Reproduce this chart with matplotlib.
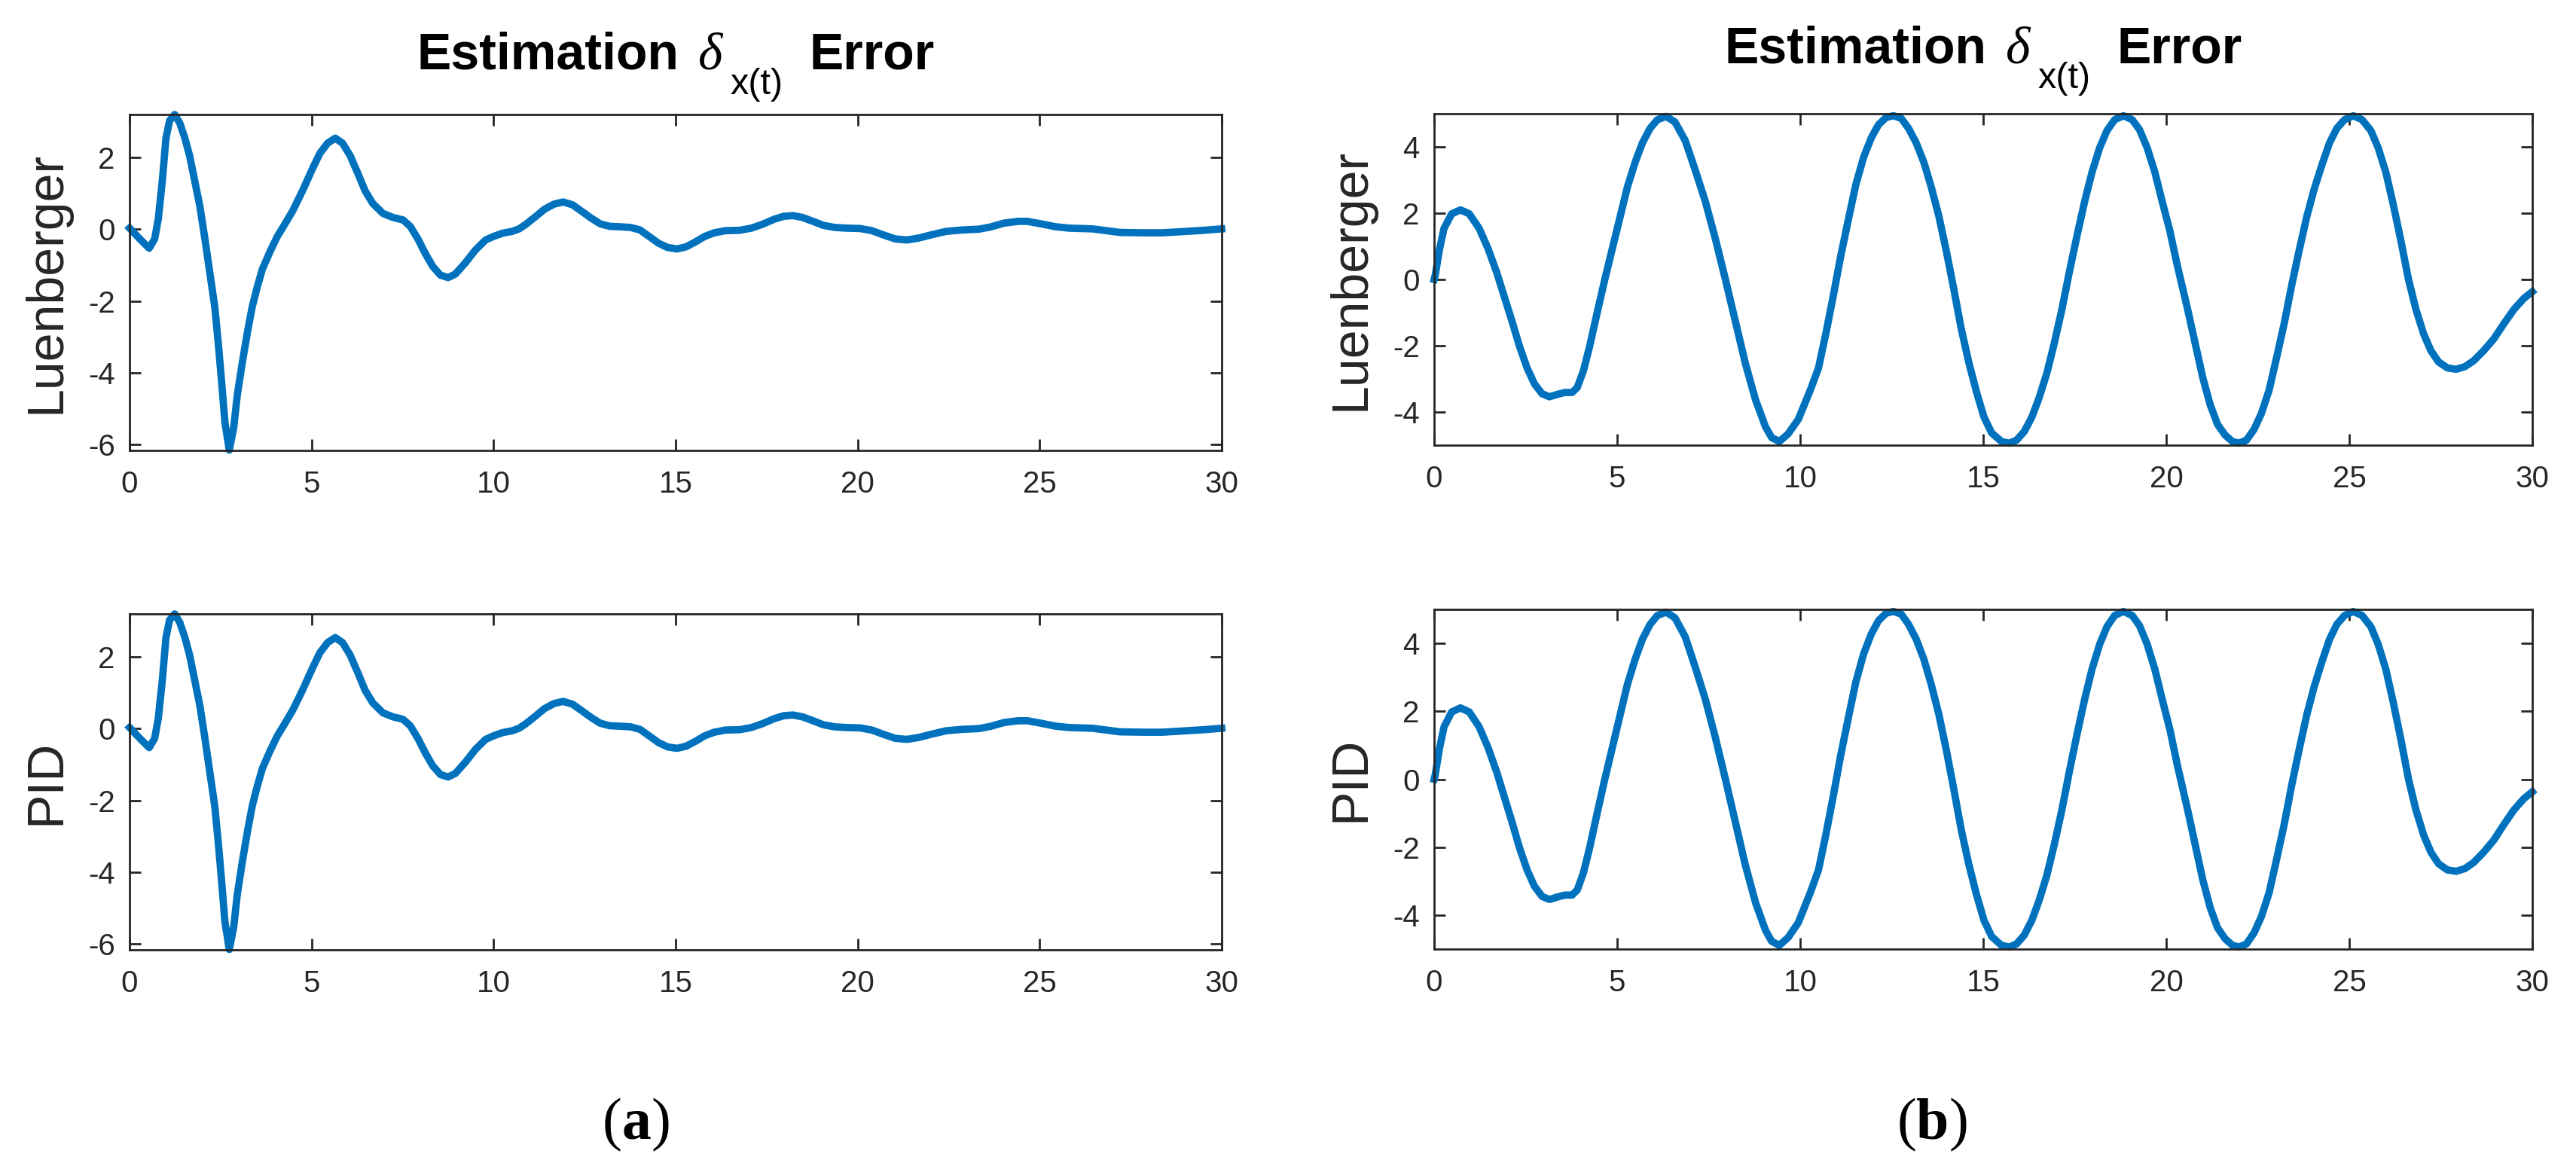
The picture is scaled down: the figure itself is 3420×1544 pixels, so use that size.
import matplotlib
matplotlib.use("Agg")
import matplotlib.pyplot as plt
from matplotlib.transforms import IdentityTransform

plt.rcParams["font.family"] = ["Liberation Sans", "DejaVu Sans"]
plt.rcParams["axes.unicode_minus"] = False

#   values
t_a = [0, 0.28, 0.54, 0.69, 0.79, 0.9, 1.0, 1.1, 1.24, 1.38, 1.52, 1.65, 1.79, 1.93,
       2.07, 2.2, 2.34, 2.44, 2.53, 2.62, 2.74, 2.86, 2.96, 3.1, 3.24, 3.37, 3.51,
       3.65, 3.86, 4.06, 4.27, 4.48, 4.75, 5.03, 5.23, 5.44, 5.65, 5.85, 6.06, 6.27,
       6.47, 6.68, 6.96, 7.23, 7.51, 7.71, 7.92, 8.13, 8.33, 8.54, 8.75, 8.95, 9.23,
       9.5, 9.78, 10.0, 10.25, 10.51, 10.7, 10.89, 11.15, 11.4, 11.66, 11.91, 12.17,
       12.42, 12.68, 12.93, 13.19, 13.44, 13.76, 14.02, 14.27, 14.53, 14.78, 15.04,
       15.29, 15.55, 15.8, 16.06, 16.37, 16.76, 17.08, 17.39, 17.71, 17.97, 18.22,
       18.48, 18.8, 19.05, 19.37, 19.69, 20.07, 20.39, 20.71, 21.03, 21.35, 21.66,
       22.05, 22.43, 22.88, 23.32, 23.64, 24.02, 24.41, 24.66, 25.04, 25.43, 25.81,
       26.45, 26.83, 27.21, 27.85, 28.36, 28.87, 29.51, 30.0]
luenberger_a = [0.03, -0.27, -0.53, -0.27, 0.29, 1.35, 2.54, 3.03, 3.2, 2.96, 2.54, 2.05,
                1.35, 0.65, -0.27, -1.18, -2.16, -3.21, -4.27, -5.39, -6.16, -5.54, -4.62,
                -3.7, -2.86, -2.16, -1.6, -1.11, -0.62, -0.2, 0.15, 0.51, 1.07, 1.7, 2.12,
                2.4, 2.54, 2.4, 2.05, 1.56, 1.07, 0.72, 0.44, 0.33, 0.26, 0.08, -0.27,
                -0.69, -1.04, -1.28, -1.35, -1.25, -0.93, -0.58, -0.3, -0.2, -0.11, -0.06,
                0.01, 0.14, 0.35, 0.56, 0.7, 0.76, 0.68, 0.5, 0.31, 0.15, 0.08, 0.07, 0.05,
                -0.02, -0.2, -0.39, -0.51, -0.55, -0.49, -0.35, -0.2, -0.1, -0.04, -0.03,
                0.03, 0.14, 0.28, 0.36, 0.38, 0.33, 0.21, 0.11, 0.05, 0.03, 0.02, -0.04,
                -0.16, -0.27, -0.3, -0.25, -0.15, -0.06, -0.02, 0.0, 0.06, 0.17, 0.22,
                0.22, 0.15, 0.07, 0.03, 0.01, -0.04, -0.09, -0.1, -0.1, -0.07, -0.03, 0.01]
pid_a = list(luenberger_a)

t_b = [0, 0.03, 0.14, 0.27, 0.48, 0.72, 0.96, 1.23, 1.47, 1.71, 1.92, 2.13, 2.33, 2.54,
       2.74, 2.95, 3.15, 3.36, 3.57, 3.77, 3.91, 4.08, 4.25, 4.46, 4.66, 4.87, 5.08,
       5.28, 5.49, 5.69, 5.9, 6.1, 6.34, 6.58, 6.86, 7.13, 7.41, 7.68, 7.96, 8.23, 8.5,
       8.78, 9.05, 9.22, 9.43, 9.67, 9.95, 10.29, 10.5, 10.7, 10.91, 11.11, 11.32,
       11.52, 11.73, 11.94, 12.14, 12.35, 12.55, 12.76, 12.96, 13.17, 13.38, 13.58,
       13.79, 13.99, 14.2, 14.4, 14.61, 14.82, 15.02, 15.23, 15.5, 15.71, 15.91, 16.12,
       16.33, 16.53, 16.74, 16.94, 17.15, 17.35, 17.56, 17.77, 17.97, 18.18, 18.38,
       18.59, 18.83, 19.07, 19.27, 19.48, 19.69, 19.89, 20.1, 20.3, 20.58, 20.79, 21.0,
       21.2, 21.4, 21.61, 21.81, 21.99, 22.19, 22.4, 22.6, 22.81, 23.01, 23.22, 23.43,
       23.63, 23.84, 24.04, 24.25, 24.46, 24.66, 24.87, 25.11, 25.35, 25.59, 25.79,
       26.0, 26.2, 26.41, 26.62, 26.82, 27.03, 27.23, 27.44, 27.68, 27.92, 28.16, 28.4,
       28.67, 28.95, 29.22, 29.5, 29.77, 30.0]
luenberger_b = [0, 0.13, 0.87, 1.54, 1.98, 2.1, 1.98, 1.54, 0.94, 0.21, -0.53, -1.27,
                -2.01, -2.67, -3.15, -3.45, -3.54, -3.47, -3.41, -3.41, -3.26, -2.75,
                -2.01, -0.97, -0.01, 0.94, 1.9, 2.79, 3.53, 4.12, 4.56, 4.82, 4.92, 4.75,
                4.19, 3.31, 2.35, 1.24, -0.01, -1.27, -2.52, -3.63, -4.44, -4.77, -4.89,
                -4.66, -4.22, -3.3, -2.67, -1.64, -0.46, 0.72, 1.83, 2.86, 3.68, 4.27,
                4.67, 4.89, 4.94, 4.86, 4.56, 4.12, 3.53, 2.79, 1.9, 0.87, -0.31, -1.49,
                -2.52, -3.41, -4.15, -4.63, -4.89, -4.94, -4.85, -4.59, -4.15, -3.56,
                -2.82, -1.93, -0.9, 0.21, 1.31, 2.35, 3.23, 3.97, 4.49, 4.82, 4.94, 4.82,
                4.52, 3.97, 3.23, 2.35, 1.46, 0.43, -0.88, -1.93, -2.97, -3.78, -4.37,
                -4.7, -4.89, -4.94, -4.85, -4.52, -4.04, -3.34, -2.38, -1.34, -0.16, 0.87,
                1.9, 2.72, 3.45, 4.12, 4.56, 4.82, 4.94, 4.82, 4.49, 3.97, 3.23, 2.27,
                1.17, -0.01, -0.9, -1.64, -2.15, -2.49, -2.67, -2.71, -2.63, -2.45, -2.15,
                -1.79, -1.34, -0.9, -0.57, -0.37]
pid_b = list(luenberger_b)

xticks = [0, 5, 10, 15, 20, 25, 30]
yticks_a = [-6, -4, -2, 0, 2]
yticks_b = [-4, -2, 0, 2, 4]

W, H = 3420, 1544
fig = plt.figure(figsize=(W / 100, H / 100), dpi=100)


def px_axes(left, top, right, bottom):
    return fig.add_axes([left / W, 1 - bottom / H, (right - left) / W, (bottom - top) / H])


def style(ax, t, y, ylim, yticks, label, width_px):
    ax.plot(t, y, color="#0072BD", lw=7, solid_joinstyle="round", clip_on=False)
    ax.set_xlim(0, 30)
    ax.set_ylim(*ylim)
    ax.set_xticks(xticks)
    ax.set_yticks(yticks)
    for s in ax.spines.values():
        s.set_linewidth(2.0)
        s.set_color("#262626")
    ax.tick_params(direction="in", length=11, width=2, top=True, right=True,
                   labelsize=29, colors="#262626")
    ax.tick_params(axis="x", pad=19)
    ax.tick_params(axis="y", pad=14)
    ax.set_ylabel(label, fontsize=49, color="#262626", va="center")
    ax.yaxis.set_label_coords(-111 / width_px, 0.5)


ax1 = px_axes(172, 152, 1622, 598)
style(ax1, t_a, luenberger_a, (-6.17, 3.2), yticks_a, "Luenberger", 1450)
ax2 = px_axes(172, 815, 1622, 1261)
style(ax2, t_a, pid_a, (-6.17, 3.2), yticks_a, "PID", 1450)
ax3 = px_axes(1904, 151, 3362, 591)
style(ax3, t_b, luenberger_b, (-5, 5), yticks_b, "Luenberger", 1458)
ax4 = px_axes(1904, 809, 3362, 1260)
style(ax4, t_b, pid_b, (-5, 5), yticks_b, "PID", 1458)

renderer = fig.canvas.get_renderer()


def chain_text(cx, base_top, pieces):
    #   pieces: (text, gap before in px, drop below baseline in px, text kwargs)
    arts = []
    for s, gap, drop, kw in pieces:
        tx = fig.text(0, 0, s, transform=IdentityTransform(), ha="left", va="baseline", **kw)
        arts.append((tx, gap, drop))
    widths = [a[0].get_window_extent(renderer).width for a in arts]
    total = sum(widths) + sum(a[1] for a in arts)
    x = cx - total / 2
    for (tx, gap, drop), w in zip(arts, widths):
        x += gap
        tx.set_position((x, H - base_top - drop))
        x += w


bold = dict(fontsize=49, fontweight="bold", color="black")
greek = dict(fontsize=50, fontstyle="italic", family="Liberation Serif", color="black")
sub = dict(fontsize=35, color="black")
title_pieces = [("Estimation", 0, 0, bold), ("\u03b4", 26, 0, greek),
                ("x(t)", 10, 33, sub), ("Error", 35, 0, bold)]
chain_text(897, 92, title_pieces)
chain_text(2633, 84, title_pieces)

par = dict(fontsize=56, family="Liberation Serif", color="black")
letter = dict(fontsize=56, family="Liberation Serif", fontweight="bold", color="black")
chain_text(845, 1512, [("(", 0, 0, par), ("a", 0, 0, letter), (")", 0, 0, par)])
chain_text(2566, 1512, [("(", 0, 0, par), ("b", 0, 0, letter), (")", 0, 0, par)])

fig.savefig("out.png", dpi=100)
